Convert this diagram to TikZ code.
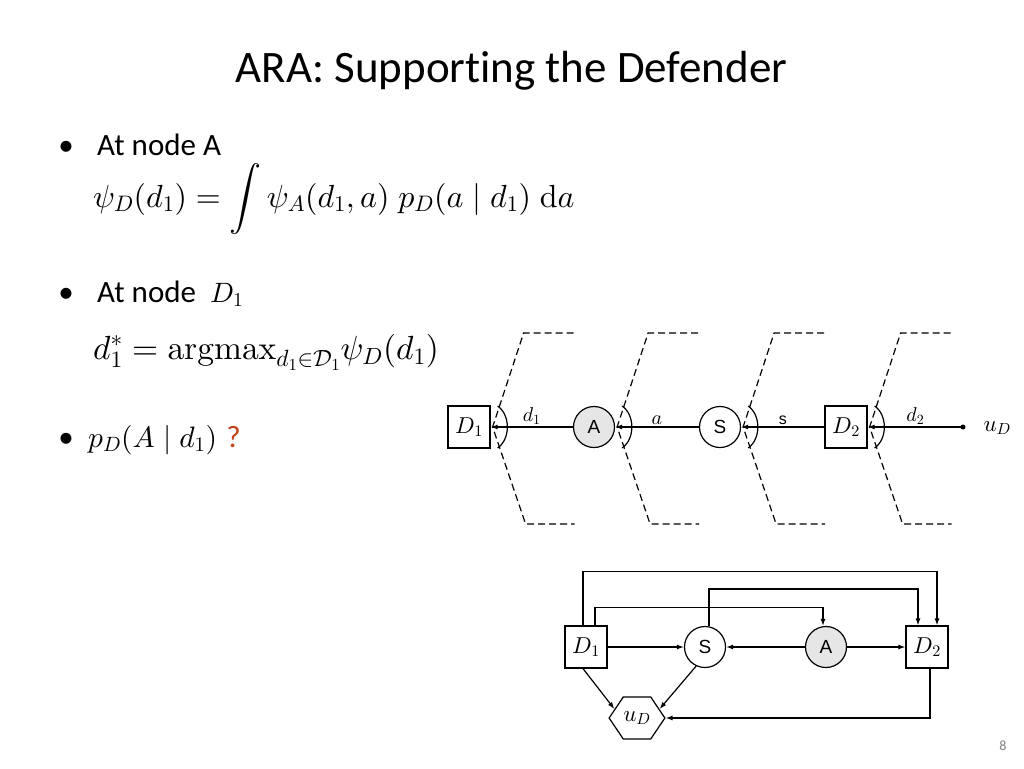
\documentclass[tikz,border=0pt]{standalone}
\usepackage[no-math]{fontspec}
\setmainfont{Carlito}[Ligatures=NoCommon]
\newfontfamily\arialfont{Liberation Sans}
\DeclareFontShape{OT1}{cmr}{m}{n}{<-6> cmr5 <6-8> cmr7 <8-> cmr10}{}
\DeclareFontShape{OML}{cmm}{m}{it}{<-6> cmmi5 <6-8> cmmi7 <8-> cmmi10}{}
\DeclareFontShape{OMS}{cmsy}{m}{n}{<-6> cmsy5 <6-8> cmsy7 <8-> cmsy10}{}
\DeclareFontShape{OMX}{cmex}{m}{n}{<-> cmex10}{}
\usetikzlibrary{calc,shapes.symbols,arrows.meta}
\definecolor{qred}{HTML}{C5441A}
\definecolor{chancegray}{HTML}{E6E6E6}
\tikzset{
  decision/.style={draw, line width=1.2pt, minimum size=42pt, inner sep=0pt, font=\fontsize{23}{23}\selectfont},
  chance/.style={draw, circle, line width=1.2pt, minimum size=41pt, inner sep=0pt, font=\arialfont\fontsize{19}{19}\selectfont},
  utility/.style={draw, signal, signal to=east and west, signal pointer angle=112, line width=1.2pt, minimum width=31pt, minimum height=42pt, inner sep=0pt, font=\fontsize{23}{23}\selectfont},
  link/.style={line width=1.2pt, -{Latex[length=7pt,width=5pt]}},
  cut/.style={line width=1.2pt, dash pattern=on 7pt off 4pt},
  lbl/.style={font=\fontsize{20}{20}\selectfont, inner sep=2pt},
  body/.style={font=\fontsize{31}{31}\selectfont, inner sep=0pt},
  formula/.style={font=\fontsize{32}{32}\selectfont, inner sep=0pt},
}

\begin{document}
\begin{tikzpicture}[x=1pt, y=-1pt]
    \fill[white] (0,0) rectangle (1024,768);
    \useasboundingbox (0,0) rectangle (1024,768);

    \node[anchor=base, font=\fontsize{45}{45}\selectfont, inner sep=0pt] (title) at (511.5,82) {ARA: Supporting the Defender};

    \node[body, anchor=base] (b1) at (66,155) {\textbullet};
    \node[body, anchor=base west] (t1) at (97,155) {At node A};
    \node[formula, anchor=base west] (f1) at (93,207) {$\displaystyle \psi_D(d_1) = \int \psi_A(d_1,a)\; p_D(a \mid d_1)\; \mathrm{d}a$};

    \node[body, anchor=base] (b2) at (66,302) {\textbullet};
    \node[body, anchor=base west] (t2) at (97,302) {At node\hspace{0.45em}{\fontsize{28}{28}\selectfont$D_1$}};
    \node[formula, font=\fontsize{33.5}{33.5}\selectfont, anchor=base west] (f2) at (93,359) {$d_1^* = \mathrm{argmax}_{d_1\in\mathcal{D}_1}\psi_D(d_1)$};

    \node[body, anchor=base] (b3) at (66,447) {\textbullet};
    \node[body, anchor=base west] (t3) at (88,447) {{\fontsize{29.5}{29.5}\selectfont$p_D(A \mid d_1)$}\hspace{0.3em}{\color{qred}?}};

    \node[decision] (td1) at (469,427) {$D_1$};
    \node[chance, fill=chancegray] (ta) at (594,427) {A};
    \node[chance] (ts) at (720,427) {S};
    \node[decision] (td2) at (846,427) {$D_2$};
    \coordinate (tu) at (963,427);
    \fill (tu) circle (2.5pt);
    \node[font=\fontsize{23}{23}\selectfont, anchor=west] (tul) at (980,428) {$u_D$};

    \draw[link] (ta) -- node[lbl, above] {$d_1$} (td1);
    \draw[link] (ts) -- node[lbl, above] {$a$} (ta);
    \draw[link] (td2) -- node[lbl, above, font=\arialfont\fontsize{16}{16}\selectfont] {s} (ts);
    \draw[link] (tu) -- node[lbl, above] {$d_2$} (td2);

    \foreach \n in {td1,ta,ts,td2}{
      \draw[line width=1.2pt] ($(\n.east)+(7,-21)$) .. controls +(13,9) and +(13,-9) .. ($(\n.east)+(7,21)$);
      \draw[cut] ($(\n.east)+(83,-94)$) -- ($(\n.east)+(33,-94)$) -- ($(\n.east)+(2,0)$) -- ($(\n.east)+(35,97)$) -- ($(\n.east)+(84,97)$);
    }

    \node[decision] (bd1) at (586,647) {$D_1$};
    \node[chance] (bs) at (705,647) {S};
    \node[chance, fill=chancegray] (ba) at (826,647) {A};
    \node[decision] (bd2) at (927,647) {$D_2$};
    \node[utility] (bu) at (637,718) {$u_D$};

    \draw[link] ([xshift=-3pt]bd1.south) -- ($(bu.west)+(6,-9)$);
    \draw[link] (bd1) -- (bs);
    \draw[link] (ba) -- (bs);
    \draw[link] (ba) -- (bd2);
    \draw[link] (bs.245) -- ($(bu.east)+(-6,-9)$);
    \draw[link] ([xshift=3pt]bd2.south) |- (bu.east);
    \draw[link] ([xshift=-3pt]bd1.north) -- ++(0,-54) -| ([xshift=10pt]bd2.north);
    \draw[link] ([xshift=9pt]bd1.north) -- ++(0,-18) -| ([xshift=-3pt]ba.north);
    \draw[link] ([xshift=4pt]bs.north) -- ++(0,-37) -| ([xshift=-9pt]bd2.north);

    \node[font=\fontsize{14}{14}\selectfont, text=gray] (pg) at (1003,746) {8};
\end{tikzpicture}
\end{document}
